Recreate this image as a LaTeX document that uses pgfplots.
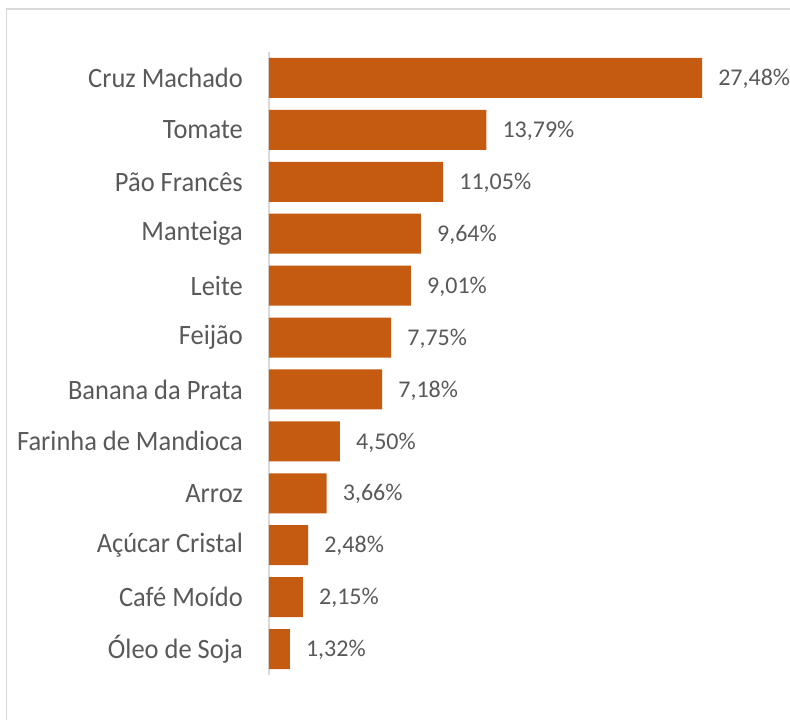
\documentclass[border=0pt]{standalone}
\usepackage{pgfplots}
\pgfplotsset{compat=1.18}
\usepackage{pgfplotstable}
\usepackage{fontspec}
\setmainfont{Carlito}
\newfontfamily\labfont[FakeStretch=0.945]{Carlito}
\definecolor{barc}{HTML}{C55A11}
\definecolor{txt}{HTML}{595959}
\definecolor{gridc}{HTML}{D9D9D9}
\pgfplotstableread{
idx val
0 1.32
1 2.15
2 2.48
3 3.66
4 4.50
5 7.18
6 7.75
7 9.01
8 9.64
9 11.05
10 13.79
11 27.48
}\datatable
\begin{document}
\begin{tikzpicture}
\path[use as bounding box] (0,0) rectangle (790pt,720pt);
\draw[gridc, line width=1.5pt] (6.5pt,711pt) rectangle (900pt,-50pt);
\begin{axis}[
  at={(269pt,45pt)}, anchor=south west,
  scale only axis,
  width=472.8pt, height=623pt,
  xmin=0, xmax=30,
  ymin=-0.5, ymax=11.5,
  xbar, bar width=40pt,
  axis x line=none,
  axis y line*=left,
  y axis line style={gridc, line width=1.5pt, -},
  ytick={0,...,11},
  yticklabels={Óleo de Soja, Café Moído, Açúcar Cristal, Arroz, Farinha de Mandioca, Banana da Prata, Feijão, Leite, Manteiga, Pão Francês, Tomate, Cruz Machado},
  major tick length=0pt,
  yticklabel style={font=\labfont\fontsize{28}{30}\selectfont, text=txt, anchor=east, inner sep=0pt, xshift=-26pt},
  nodes near coords={\pgfmathprintnumber[fixed,fixed zerofill,precision=2,use comma,assume math mode=true]{\pgfplotspointmeta}\%},
  point meta=x,
  every node near coord/.append style={font=\fontsize{24}{26}\selectfont, text=txt, anchor=west, inner sep=0pt, xshift=16pt, yshift=-1pt},
  clip=false,
]
\addplot[fill=barc, draw=none] table[x=val, y=idx] {\datatable};
\end{axis}
\end{tikzpicture}
\end{document}
